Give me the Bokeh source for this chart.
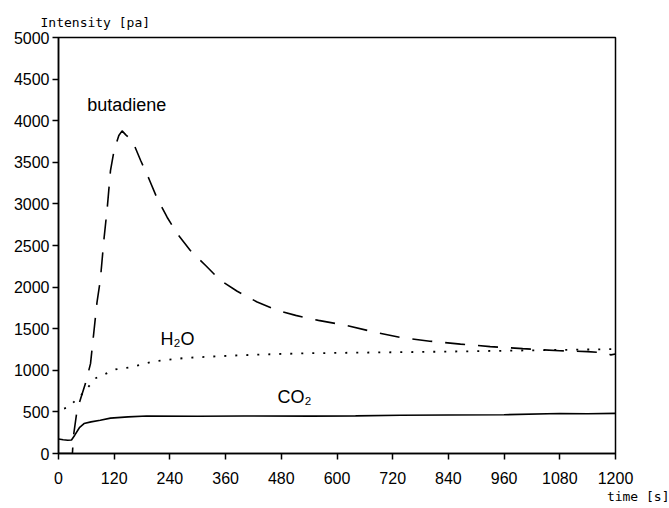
from bokeh.plotting import figure
from bokeh.models import Range1d, Label, FixedTicker, Title
from bokeh.embed import file_html
from bokeh.resources import INLINE

# ---- data ----
butadiene_t = [0, 30, 32, 40, 50, 58, 69, 76, 83, 90, 98, 105, 112, 120, 130, 137, 145, 159, 177, 195, 213, 234,
               256, 284, 317, 349, 385, 428, 471, 511, 560, 619, 680, 737, 800, 866, 930, 1000, 1080, 1140, 1180, 1190, 1200]
butadiene_v = [0, 0, 200, 520, 700, 840, 1080, 1450, 1820, 2080, 2580, 2950, 3400, 3650, 3822, 3878, 3830, 3762, 3522, 3300, 3060, 2840,
               2640, 2440, 2260, 2080, 1950, 1820, 1720, 1660, 1600, 1540, 1460, 1395, 1350, 1315, 1285, 1260, 1235, 1225, 1210, 1185, 1195]

h2o_t = [12, 22, 53, 80, 123, 159, 207, 276, 364, 435, 543, 640, 737, 840, 960, 1080, 1200]
h2o_v = [540, 560, 725, 905, 1010, 1040, 1109, 1150, 1174, 1190, 1205, 1212, 1218, 1225, 1235, 1245, 1255]

co2_t = [0, 10, 20, 28, 35, 45, 55, 70, 90, 112, 150, 190, 300, 400, 543, 640, 737, 840, 960, 1080, 1140, 1200]
co2_v = [175, 165, 160, 162, 220, 310, 360, 380, 400, 425, 440, 450, 448, 450, 449, 452, 460, 462, 466, 480, 478, 482]

x_ticks = [0, 120, 240, 360, 480, 600, 720, 840, 960, 1080, 1200]
y_ticks = [0, 500, 1000, 1500, 2000, 2500, 3000, 3500, 4000, 4500, 5000]

TICK_FONT = "Liberation Sans"
MONO = "DejaVu Sans Mono"

p = figure(width=669, height=508, output_backend="svg", toolbar_location=None,
           x_range=Range1d(0, 1200), y_range=Range1d(0, 5000),
           min_border_left=58, min_border_right=54, min_border_top=37, min_border_bottom=55)

p.title.text = "Intensity [pa]"
p.title.align = "left"
p.title.offset = -18
p.title.text_font = MONO
p.title.text_font_size = "13px"
p.title.text_font_style = "normal"
p.title.text_color = "black"
p.title.standoff = 15

p.add_layout(Title(text="time [s]", align="right", offset=-54, text_font=MONO,
                   text_font_size="13px", text_font_style="normal", text_color="black",
                   standoff=0), "below")

p.xgrid.visible = False
p.ygrid.visible = False
p.outline_line_color = "black"
p.outline_line_width = 1.5
p.background_fill_color = "white"
p.border_fill_color = "white"

for ax in (p.xaxis, p.yaxis):
    ax.axis_line_color = "black"
    ax.axis_line_width = 1.5
    ax.major_tick_line_color = "black"
    ax.major_tick_line_width = 1.5
    ax.major_tick_out = 6
    ax.major_tick_in = 0
    ax.minor_tick_line_color = None
    ax.major_label_text_font = TICK_FONT
    ax.major_label_text_font_size = "16px"
    ax.major_label_text_color = "black"

p.xaxis.ticker = FixedTicker(ticks=x_ticks)
p.yaxis.ticker = FixedTicker(ticks=y_ticks)
p.xaxis.major_label_standoff = 12
p.yaxis.major_label_standoff = 3

p.line(butadiene_t, butadiene_v, line_color="black", line_width=1.6, line_dash="20 13")
p.line(h2o_t, h2o_v, line_color="black", line_width=1.8, line_dash="2 9")
p.line(co2_t, co2_v, line_color="black", line_width=1.6)

p.add_layout(Label(x=62, y=4183, text="butadiene", text_font=TICK_FONT, text_font_size="18px",
                   text_baseline="middle", text_align="left", text_color="black"))
p.add_layout(Label(x=220, y=1382, text="H₂O", text_font=TICK_FONT, text_font_size="18px",
                   text_baseline="middle", text_align="left", text_color="black"))
p.add_layout(Label(x=472, y=685, text="CO₂", text_font=TICK_FONT, text_font_size="18px",
                   text_baseline="middle", text_align="left", text_color="black"))

open("out.html", "w").write(file_html(p, INLINE))
